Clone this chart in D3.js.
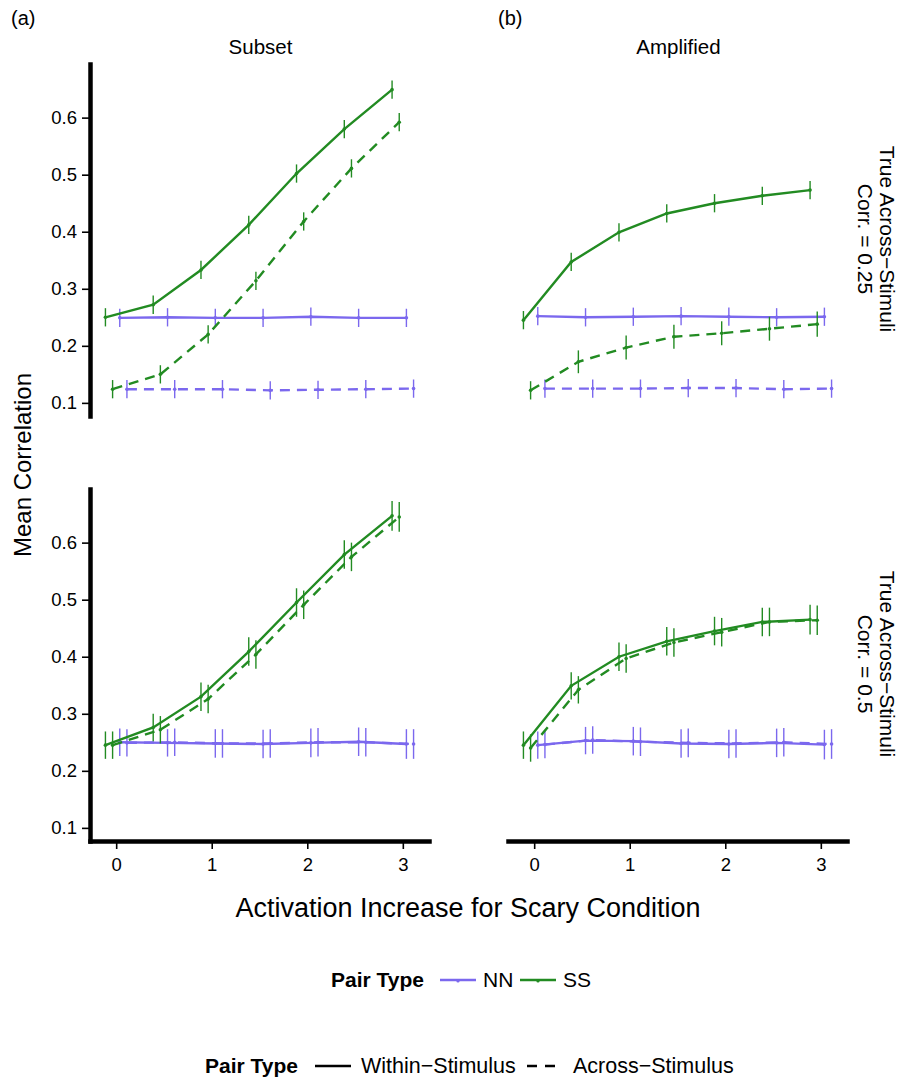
<!DOCTYPE html>
<html>
<head>
<meta charset="utf-8">
<script src="https://cdn.jsdelivr.net/npm/d3@7"></script>
<style>
  body { margin: 0; background: #fff; }
  svg text { font-family: "Liberation Sans", Arial, sans-serif; fill: #000; }
</style>
</head>
<body>
<svg id="chart" width="900" height="1078"></svg>
<script>
// x positions (activation increase)
const xValues = [0, 0.5, 1, 1.5, 2, 2.5, 3];
const xTicks = [0, 1, 2, 3];
const yTicks = [0.1, 0.2, 0.3, 0.4, 0.5, 0.6];

const columns = ["Subset", "Amplified"];
const columnTags = ["(a)", "(b)"];
const rows = ["True Across\u2212Stimuli|Corr. = 0.25", "True Across\u2212Stimuli|Corr. = 0.5"];

// Subset, corr 0.25
const ssWithinSub25 = [0.250, 0.272, 0.333, 0.412, 0.502, 0.580, 0.649];
const ssAcrossSub25 = [0.124, 0.150, 0.220, 0.314, 0.418, 0.511, 0.592];
const nnWithinSub25 = [0.249, 0.250, 0.249, 0.249, 0.251, 0.249, 0.249];
const nnAcrossSub25 = [0.124, 0.124, 0.124, 0.122, 0.123, 0.124, 0.125];
// Amplified, corr 0.25
const ssWithinAmp25 = [0.245, 0.347, 0.399, 0.432, 0.450, 0.463, 0.473];
const ssAcrossAmp25 = [0.122, 0.172, 0.197, 0.216, 0.222, 0.230, 0.238];
const nnWithinAmp25 = [0.252, 0.250, 0.251, 0.252, 0.251, 0.250, 0.251];
const nnAcrossAmp25 = [0.125, 0.125, 0.125, 0.126, 0.126, 0.124, 0.125];
// Subset, corr 0.5
const ssWithinSub50 = [0.245, 0.276, 0.330, 0.409, 0.495, 0.579, 0.647];
const ssAcrossSub50 = [0.245, 0.272, 0.326, 0.404, 0.491, 0.575, 0.645];
const nnWithinSub50 = [0.250, 0.249, 0.248, 0.247, 0.249, 0.251, 0.247];
const nnAcrossSub50 = [0.249, 0.250, 0.248, 0.248, 0.250, 0.250, 0.247];
// Amplified, corr 0.5
const ssWithinAmp50 = [0.245, 0.349, 0.400, 0.427, 0.445, 0.461, 0.465];
const ssAcrossAmp50 = [0.240, 0.342, 0.397, 0.425, 0.443, 0.461, 0.464];
const nnWithinAmp50 = [0.245, 0.253, 0.252, 0.248, 0.247, 0.249, 0.246];
const nnAcrossAmp50 = [0.246, 0.254, 0.251, 0.249, 0.248, 0.250, 0.247];

// error bar half-widths
const errTop = [0.016, 0.016, 0.016, 0.016, 0.016, 0.016, 0.016];
const errTopAcross = [0.016, 0.020, 0.021, 0.021, 0.021, 0.021, 0.022];
const errBottom = [0.024, 0.024, 0.025, 0.025, 0.025, 0.025, 0.026];

const pairColors = {NN: "#7B68EE", SS: "#228B22"};
// dodge offsets in x units
const dodge = {"SS-Within": -0.1125, "SS-Across": -0.0375, "NN-Within": 0.0375, "NN-Across": 0.1125};

const panels = [
  {row: 0, col: 0, series: [
    {pair: "NN", kind: "Within", y: nnWithinSub25, e: errTop},
    {pair: "NN", kind: "Across", y: nnAcrossSub25, e: errTop},
    {pair: "SS", kind: "Within", y: ssWithinSub25, e: errTop},
    {pair: "SS", kind: "Across", y: ssAcrossSub25, e: errTop}]},
  {row: 0, col: 1, series: [
    {pair: "NN", kind: "Within", y: nnWithinAmp25, e: errTop},
    {pair: "NN", kind: "Across", y: nnAcrossAmp25, e: errTop},
    {pair: "SS", kind: "Within", y: ssWithinAmp25, e: errTop},
    {pair: "SS", kind: "Across", y: ssAcrossAmp25, e: errTopAcross}]},
  {row: 1, col: 0, series: [
    {pair: "NN", kind: "Within", y: nnWithinSub50, e: errBottom},
    {pair: "NN", kind: "Across", y: nnAcrossSub50, e: errBottom},
    {pair: "SS", kind: "Within", y: ssWithinSub50, e: errBottom},
    {pair: "SS", kind: "Across", y: ssAcrossSub50, e: errBottom}]},
  {row: 1, col: 1, series: [
    {pair: "NN", kind: "Within", y: nnWithinAmp50, e: errBottom},
    {pair: "NN", kind: "Across", y: nnAcrossAmp50, e: errBottom},
    {pair: "SS", kind: "Within", y: ssWithinAmp50, e: errBottom},
    {pair: "SS", kind: "Across", y: ssAcrossAmp50, e: errBottom}]}
];

const svg = d3.select("#chart");
const colX = [[90, 429], [508, 847]];
const rowY = [[64, 416], [489, 841]];

const xScales = colX.map(r => d3.scaleLinear().domain([-0.274, 3.274]).range(r));
const yScales = rowY.map(r => d3.scaleLinear().domain([0.077, 0.694]).range([r[1], r[0]]));

panels.forEach(p => {
  const x = xScales[p.col];
  const y = yScales[p.row];
  const g = svg.append("g");

  p.series.forEach(s => {
    const off = dodge[s.pair + "-" + s.kind];
    const pts = xValues.map((v, i) => ({x: v + off, y: s.y[i], e: s.e[i]}));
    const color = pairColors[s.pair];
    const line = d3.line().x(d => x(d.x)).y(d => y(d.y));

    g.append("path")
      .datum(pts)
      .attr("d", line)
      .attr("fill", "none")
      .attr("stroke", color)
      .attr("stroke-width", 2.4)
      .attr("stroke-dasharray", s.kind === "Across" ? "10,7" : null);

    g.selectAll(null)
      .data(pts)
      .enter().append("line")
      .attr("x1", d => x(d.x)).attr("x2", d => x(d.x))
      .attr("y1", d => y(d.y - d.e)).attr("y2", d => y(d.y + d.e))
      .attr("stroke", color)
      .attr("stroke-width", 1.4);

    g.selectAll(null)
      .data(pts)
      .enter().append("circle")
      .attr("cx", d => x(d.x)).attr("cy", d => y(d.y))
      .attr("r", 1.8)
      .attr("fill", color);
  });

  // y axis on left column only
  if (p.col === 0) {
    const ax = svg.append("g")
      .attr("transform", `translate(${colX[0][0]},0)`)
      .call(d3.axisLeft(y).tickValues(yTicks).tickFormat(d3.format(".1f")).tickSize(8).tickSizeOuter(0).tickPadding(5));
    ax.select(".domain").attr("stroke", "#000").attr("stroke-width", 4.5).attr("stroke-linecap", "square");
    ax.selectAll(".tick line").attr("stroke", "#000").attr("stroke-width", 1.6);
    ax.selectAll(".tick text").style("font-size", "18.5px").style("font-family", "Liberation Sans, Arial, sans-serif").attr("fill", "#000");
  }
  // x axis on bottom row only
  if (p.row === 1) {
    const ax = svg.append("g")
      .attr("transform", `translate(0,${rowY[1][1]})`)
      .call(d3.axisBottom(x).tickValues(xTicks).tickFormat(d3.format("d")).tickSize(8).tickSizeOuter(0).tickPadding(9));
    ax.select(".domain").attr("stroke", "#000").attr("stroke-width", 4.5).attr("stroke-linecap", "square");
    ax.selectAll(".tick line").attr("stroke", "#000").attr("stroke-width", 1.6);
    ax.selectAll(".tick text").style("font-size", "18.5px").style("font-family", "Liberation Sans, Arial, sans-serif").attr("fill", "#000");
  }
});

// column strips and tags
columns.forEach((c, i) => {
  const cx = (colX[i][0] + colX[i][1]) / 2;
  svg.append("text").attr("x", cx + 1).attr("y", 54)
    .attr("text-anchor", "middle").style("font-size", "20.5px").text(c);
});
svg.append("text").attr("x", 11).attr("y", 25).style("font-size", "20px").text(columnTags[0]);
svg.append("text").attr("x", 498).attr("y", 25).style("font-size", "20px").text(columnTags[1]);

// row strips (rotated, read top to bottom)
rows.forEach((r, i) => {
  const cy = (rowY[i][0] + rowY[i][1]) / 2;
  const lines = r.split("|");
  const t = svg.append("text")
    .attr("transform", `translate(876,${cy - 1}) rotate(90)`)
    .attr("text-anchor", "middle")
    .style("font-size", "21px");
  lines.forEach((l, j) => {
    t.append("tspan").attr("x", 0).attr("dy", j === 0 ? "-0.2em" : "1.05em").text(l);
  });
});

// axis titles
svg.append("text").attr("x", 468).attr("y", 917)
  .attr("text-anchor", "middle").style("font-size", "27px")
  .text("Activation Increase for Scary Condition");
svg.append("text")
  .attr("transform", `translate(31,465) rotate(-90)`)
  .attr("text-anchor", "middle").style("font-size", "24px")
  .text("Mean Correlation");

// legend: pair type colours
const leg1 = svg.append("g").attr("transform", "translate(0,980)");
leg1.append("text").attr("x", 331).attr("y", 7).style("font-size", "21px").style("font-weight", "bold").text("Pair Type");
[["NN", 440], ["SS", 520]].forEach(([k, lx]) => {
  leg1.append("line").attr("x1", lx).attr("x2", lx + 36).attr("y1", 0).attr("y2", 0)
    .attr("stroke", pairColors[k]).attr("stroke-width", 2.4);
  leg1.append("circle").attr("cx", lx + 18).attr("cy", 1).attr("r", 1.6).attr("fill", pairColors[k]);
  leg1.append("text").attr("x", lx + 43).attr("y", 7).style("font-size", "21px").text(k);
});

// legend: pair type line styles
const leg2 = svg.append("g").attr("transform", "translate(0,1066)");
leg2.append("text").attr("x", 205).attr("y", 7).style("font-size", "21px").style("font-weight", "bold").text("Pair Type");
[["Within\u2212Stimulus", 315, null], ["Across\u2212Stimulus", 527, "10,8"]].forEach(([k, lx, dash]) => {
  leg2.append("line").attr("x1", lx).attr("x2", lx + 36).attr("y1", 0).attr("y2", 0)
    .attr("stroke", "#000").attr("stroke-width", 2.6).attr("stroke-dasharray", dash);
  leg2.append("text").attr("x", lx + 46).attr("y", 7).style("font-size", "21.5px").text(k);
});
</script>
</body>
</html>
